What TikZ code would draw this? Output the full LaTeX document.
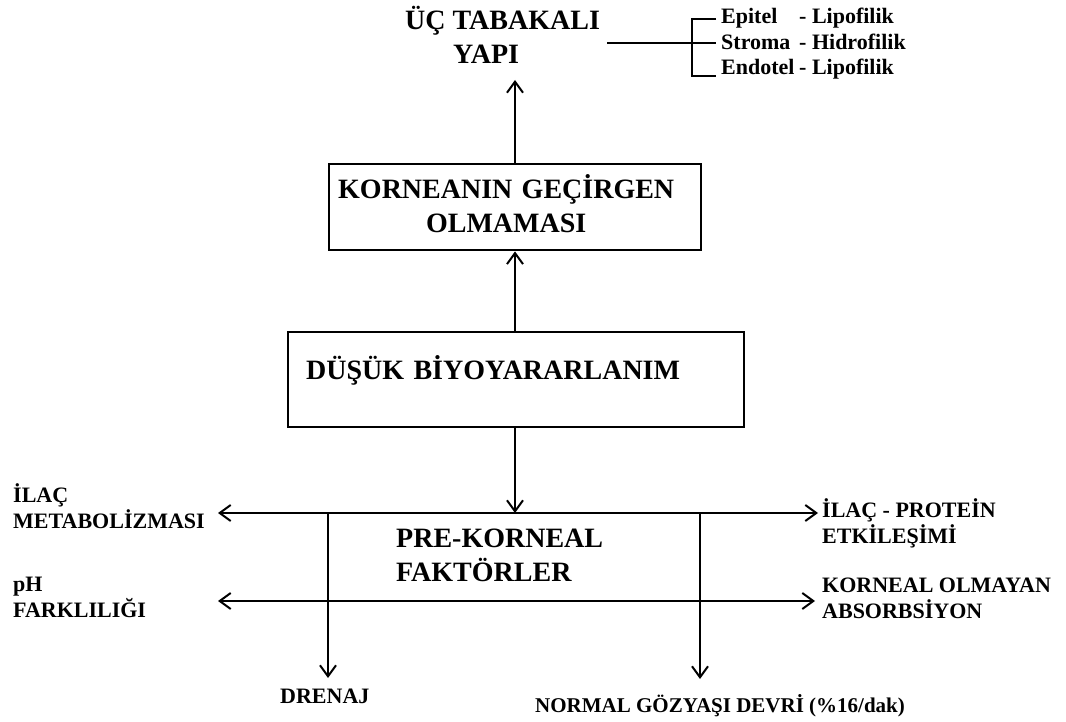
\documentclass[tikz,border=0pt]{standalone}
\usepackage{fontspec}
\setmainfont{Liberation Serif}
\usetikzlibrary{arrows.meta}
\tikzset{
  big/.style={font=\bfseries\fontsize{28}{34}\selectfont, inner sep=0pt},
  side/.style={font=\bfseries\fontsize{22}{26}\selectfont, inner sep=0pt, align=left, anchor=base west},
  brk/.style={font=\bfseries\fontsize{22}{25}\selectfont, inner sep=0pt, anchor=base west},
  ln/.style={line width=2pt},
  arr/.style={ln, -{Straight Barb[length=11pt,width=16pt,line width=2pt]}},
  darr/.style={ln, {Straight Barb[length=11pt,width=16pt,line width=2pt]}-{Straight Barb[length=11pt,width=16pt,line width=2pt]}},
  boxst/.style={draw, line width=2.4pt, anchor=north west}
}
\begin{document}
\begin{tikzpicture}[x=1pt,y=-1pt]
\useasboundingbox (0,0) rectangle (1066,722);
% title
\node[big, anchor=base west] (t1) at (405,30) {ÜÇ TABAKALI};
\node[big, anchor=base west] (t2) at (453,64) {YAPI};
\coordinate (tarr) at (515,80);
% bracket
\coordinate (bs) at (607,43);
\coordinate (bv) at (692,43);
\coordinate (bt) at (692,19);
\coordinate (bb) at (692,76);
\node[brk] (ep) at (721,24) {\makebox[78pt][l]{Epitel}- Lipofilik};
\node[brk] (st) at (721,50) {\makebox[78pt][l]{Stroma}- Hidrofilik};
\node[brk] (en) at (721,75) {\makebox[78pt][l]{Endotel}- Lipofilik};
\draw[ln] (bs) -- (bv) -- (716,43);
\draw[ln] (716,19) -- (bt) -- (bb) -- (716,76);
% boxes
\node[boxst, big, inner xsep=9pt, inner ysep=0pt, text height=34pt, text depth=52pt, text width=354pt, align=left] (b1) at (328,163)
  {\makebox[336pt][c]{KORNEANIN GEÇİRGEN}\\\makebox[336pt][c]{OLMAMASI}};
\node[boxst, big, inner xsep=18pt, inner ysep=0pt, text height=47pt, text depth=48pt, text width=420pt, align=left] (b2) at (287,331)
  {DÜŞÜK BİYOYARARLANIM};
\draw[arr] (b1.north -| tarr) -- (tarr);
\draw[arr] (b2.north -| tarr) -- (b1.south -| tarr);
% pre-corneal
\coordinate (j) at (515,513);
\draw[arr] (b2.south -| j) -- (j);
\node[big, anchor=base west, align=left] (pk) at (396,581) {PRE-KORNEAL\\FAKTÖRLER};
% side labels
\node[side] (ilac) at (13,528) {İLAÇ\\METABOLİZMASI};
\node[side] (ph) at (13,617) {pH\\FARKLILIĞI};
\node[side] (prot) at (822,543) {İLAÇ - PROTEİN\\ETKİLEŞİMİ};
\node[side] (kor) at (822,618) {KORNEAL OLMAYAN\\ABSORBSİYON};
\node[side] (dren) at (280,703) {DRENAJ};
\node[side, font=\bfseries\fontsize{21}{26}\selectfont] (norm) at (535,712) {NORMAL GÖZYAŞI DEVRİ (\%16/dak)};
\coordinate (l1l) at (218,513);
\coordinate (l1r) at (818,513);
\coordinate (l2l) at (218,601);
\coordinate (l2r) at (815,601);
\draw[darr] (l1l) -- (l1r);
\draw[darr] (l2l) -- (l2r);
\draw[arr] (328,513) -- (328,678);
\draw[arr] (700,513) -- (700,679);
\end{tikzpicture}
\end{document}
